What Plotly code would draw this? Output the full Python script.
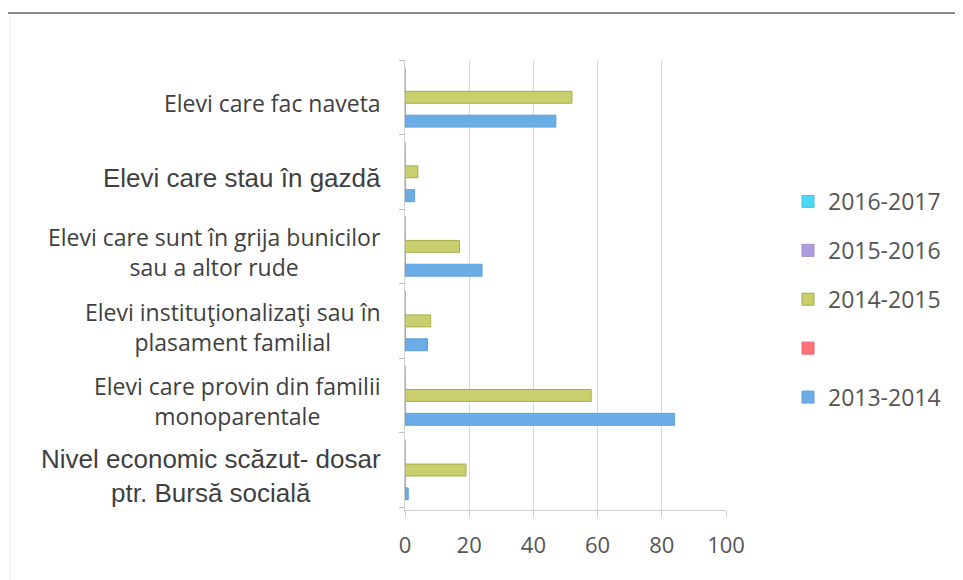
import plotly.graph_objects as go

categories = [
    "Nivel economic scăzut- dosar<br>ptr. Bursă socială",
    "Elevi care provin din familii<br>monoparentale",
    "Elevi instituţionalizaţi sau în<br>plasament familial",
    "Elevi care sunt în grija bunicilor<br>sau a altor rude",
    "Elevi care stau în gazdă",
    "Elevi care fac naveta",
]
series_names = ["2013-2014", " ", "2014-2015", "2015-2016", "2016-2017"]
v_2013_2014 = [1, 84, 7, 24, 3, 47]
v_blank = [0, 0, 0, 0, 0, 0]
v_2014_2015 = [19, 58, 8, 17, 4, 52]
v_2015_2016 = [0, 0, 0, 0, 0, 0]
v_2016_2017 = [0, 0, 0, 0, 0, 0]
x_ticks = [0, 20, 40, 60, 80, 100]

values = [v_2013_2014, v_blank, v_2014_2015, v_2015_2016, v_2016_2017]
colors = ["#69ace6", "#ff7378", "#c9cf6c", "#ad9bdc", "#4dd8f7"]
edges = ["#5f9fd8", "#e86468", "#a3ad4c", "#9d8bcc", "#44c6e6"]

narrow = "Open Sans, sans-serif"
arial = "Liberation Sans, Arial, sans-serif"
label_fonts = [arial, narrow, narrow, narrow, arial, narrow]
label_sizes = [26, 23, 23, 23, 26, 23]

L, T, W, H = 397, 52, 321, 450

fig = go.Figure()
for i, (name, vals) in enumerate(zip(series_names, values)):
    fig.add_trace(go.Bar(
        y=categories, x=vals, name=name, orientation="h",
        marker=dict(color=colors[i], line=dict(color=edges[i], width=1)),
        legendgroup="g%d" % i, legendrank=100 - i,
    ))

for cat, fnt, sz in zip(categories, label_fonts, label_sizes):
    fig.add_annotation(
        x=0, xref="paper", xanchor="right", xshift=-22,
        y=cat, yref="y", yshift=-6,
        text=cat, showarrow=False, align="center",
        font=dict(family=fnt, size=sz, color="#3f3f3f"),
    )

fig.update_layout(
    width=963, height=580,
    paper_bgcolor="white", plot_bgcolor="white",
    margin=dict(l=L, r=963 - L - W, t=T, b=580 - T - H),
    barmode="group", bargap=0.2, bargroupgap=0,
    showlegend=True,
    legend=dict(
        traceorder="grouped", tracegroupgap=16,
        xref="container", yref="container",
        x=780 / 963, y=1 - 172 / 580, xanchor="left", yanchor="top",
        font=dict(family="Open Sans, sans-serif", size=23, color="#555555"),
        itemwidth=30,
    ),
    xaxis=dict(
        range=[0, 100], tickvals=x_ticks,
        showgrid=True, gridcolor="#dadada", gridwidth=1,
        zeroline=False, showline=True, linecolor="#cfcfcf",
        ticks="outside", ticklen=6, tickcolor="#cfcfcf",
        ticklabelstandoff=10,
        tickfont=dict(family="Open Sans, sans-serif", size=22, color="#555555"),
        fixedrange=True,
    ),
    yaxis=dict(
        type="category", showticklabels=False,
        showline=True, linecolor="#cfcfcf",
        ticks="outside", tickson="boundaries", ticklen=5, tickcolor="#bfbfbf",
        showgrid=False, fixedrange=True,
    ),
    shapes=[
        dict(type="line", xref="paper", yref="paper", x0=-L / W, x1=(963 - L) / W,
             y0=1 + 47 / H, y1=1 + 47 / H, line=dict(color="#8a8a8a", width=2)),
        dict(type="line", xref="paper", yref="paper", x0=(2 - L) / W, x1=(2 - L) / W,
             y0=1 + 46 / H, y1=-(580 - T - H) / H, line=dict(color="#ececec", width=1)),
    ],
)

fig.write_html("out.html")
